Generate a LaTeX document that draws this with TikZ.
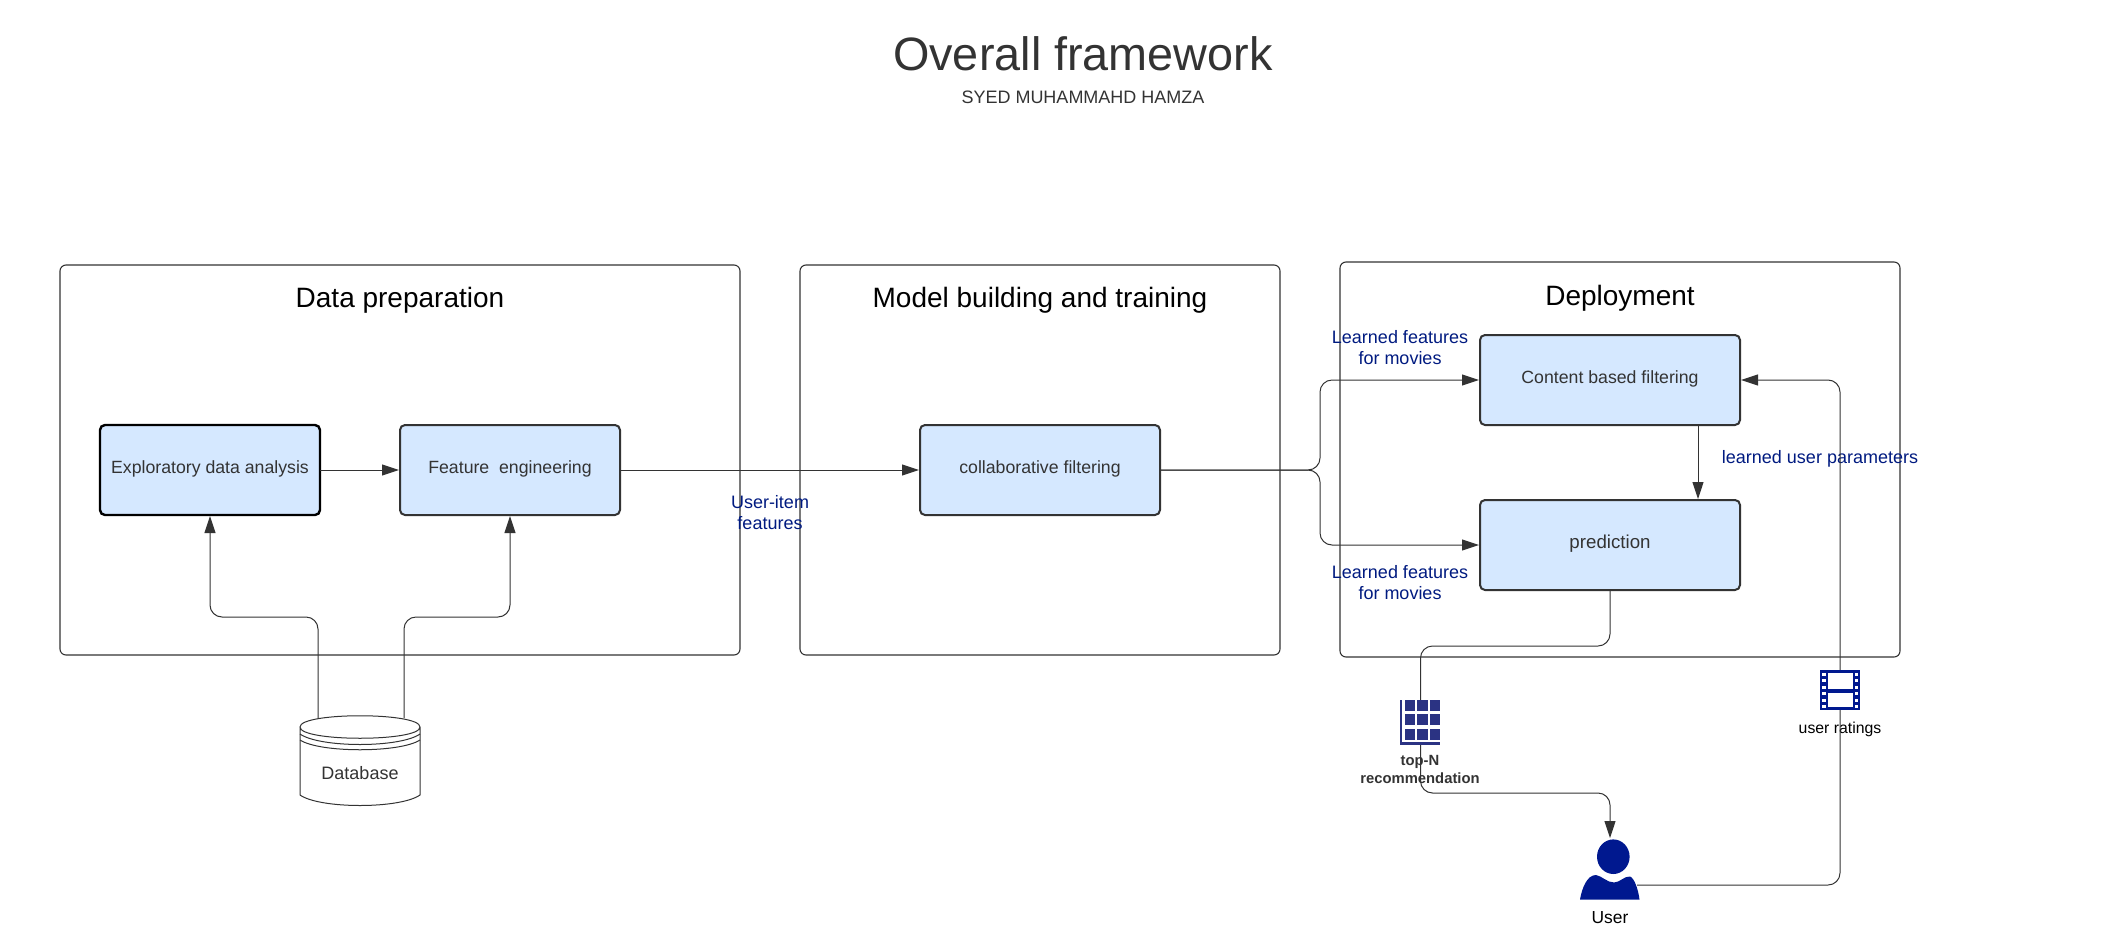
\documentclass[tikz,border=0pt]{standalone}
\usepackage{fontspec}
\usepackage{xcolor}
\usepackage{tikz}
\usetikzlibrary{arrows.meta}
\setmainfont{Liberation Sans}
\definecolor{boxblue}{HTML}{D5E8FF}
\definecolor{inkgray}{HTML}{333333}
\definecolor{labelblue}{HTML}{001A80}
\definecolor{iconblue}{HTML}{00188F}
\definecolor{gridblue}{HTML}{2B3383}

\begin{document}
\begin{tikzpicture}[x=0.5pt, y=-0.5pt, >={Triangle[length=8.5pt, width=5.5pt]}]
	\useasboundingbox (0, 0) rectangle (2114, 942);

	\begin{scope}[
		panel/.style={draw=inkgray, line width=0.55pt, rounded corners=3pt, inner sep=0, outer sep=0},
		block/.style={align=center, draw=inkgray, fill=boxblue, line width=1pt, rounded corners=2.5pt, minimum height=45pt, inner sep=0, outer sep=0, text=inkgray, text height=6.5pt, text depth=3pt, font=\fontsize{8.85}{11}\selectfont},
		heading/.style={font=\fontsize{14}{16}\selectfont, text=black, inner sep=0},
		blue label/.style={align=center, text=labelblue, inner sep=0, font=\fontsize{9}{10.5}\selectfont},
		icon/.style={minimum width=20pt, inner sep=0, outer sep=0}]
		\node[panel, minimum width=340pt, minimum height=195pt] (PrepPanel) at (400, 460) {};
		\node[panel, minimum width=240pt, minimum height=195pt] (ModelPanel) at (1040, 460) {};
		\node[panel, minimum width=280pt, minimum height=197.5pt] (DeployPanel) at (1620, 459.5) {};

		\node[font=\fontsize{23.4}{26}\selectfont, text=inkgray, inner sep=0] (Title) at (1083, 54) {Overall framework};
		\node[font=\fontsize{9}{11}\selectfont, text=inkgray, inner sep=0] (Author) at (1083, 97) {SYED MUHAMMAHD HAMZA};

		\node[heading] (PrepHead) at (400, 300.5) {Data preparation};
		\node[heading] (ModelHead) at (1040, 300.5) {Model building and training};
		\node[heading] (DeployHead) at (1620, 298) {Deployment};

		\node[block, minimum width=110pt, draw=black, line width=1.2pt] (Eda) at (210, 470) {Exploratory data analysis};
		\node[block, minimum width=110pt] (Feature) at (510, 470) {Feature\ \ engineering};
		\node[block, minimum width=120pt] (Collab) at (1040, 470) {collaborative filtering};
		\node[block, minimum width=130pt] (Content) at (1610, 380) {Content based filtering};
		\node[block, minimum width=130pt, font=\fontsize{9.35}{11}\selectfont] (Predict) at (1610, 545) {prediction};

		\node[blue label] (ItemLabel) at (770, 513) {User-item\\features};
		\node[blue label] (MovieTop) at (1400, 347.5) {Learned features\\for movies};
		\node[blue label] (MovieLow) at (1400, 582.5) {Learned features\\for movies};
		\node[blue label] (ParamLabel) at (1820, 459) {learned user parameters};

		\node[minimum width=60pt, minimum height=45pt, inner sep=0, outer sep=0] (Db) at (360, 760) {};
		\node[icon, minimum height=22.5pt] (GridIcon) at (1420, 722.5) {};
		\node[icon, minimum height=20pt] (FilmIcon) at (1840, 690) {};
		\node[minimum width=30pt, minimum height=30pt, inner sep=0, outer sep=0] (UserIcon) at (1610, 869) {};

		\node[align=center, inner sep=0, font=\bfseries\fontsize{7.4}{8.7}\selectfont, text=inkgray] (GridText) at (1420, 769.5) {top-N\\recommendation};
		\node[inner sep=0, font=\fontsize{7.9}{10}\selectfont] (FilmText) at (1840, 729) {user ratings};
		\node[inner sep=0, font=\fontsize{8.7}{10}\selectfont] (UserText) at (1610, 918) {User};
	\end{scope}

	\coordinate (DbLeft) at (318, 718);
	\coordinate (DbRight) at (404, 718);
	\coordinate (BendEda) at (210, 617);
	\coordinate (BendFeature) at (510, 617);
	\coordinate (Fork) at (1320, 470);
	\coordinate (ContentOut) at (1698, 425);
	\coordinate (DropA) at (1420.5, 646);
	\coordinate (DropB) at (1420.5, 793);
	\coordinate (UserOut) at (1637, 885);

	\begin{scope}[
		link/.style={draw=inkgray, line width=0.5pt, rounded corners=6pt, shorten >=0.5pt}]
		\draw[link, ->] (DbLeft) |- (BendEda) -- (Eda.south);
		\draw[link, ->] (DbRight) |- (BendFeature) -- (Feature.south);
		\draw[link, ->] (Eda.east) -- (Feature.west);
		\draw[link, ->] (Feature.east) -- (Collab.west);
		\draw[link, ->] (Collab.east) -- (Fork) |- (Content.west);
		\draw[link, ->] (Collab.east) -- (Fork) |- (Predict.west);
		\draw[link, ->] (ContentOut) -- (ContentOut |- Predict.north);
		\draw[link, ->] (Predict.south) |- (DropA) -- (DropB) -| (UserIcon.north);
		\draw[link, ->] (UserOut) -| (FilmIcon.center) |- (Content.east);
	\end{scope}

	\draw[inkgray, line width=0.5pt, fill=white] (300, 727) -- (300, 795) .. controls (320, 809) and (400, 809) .. (420, 795) -- (420, 727) .. controls (420, 712) and (300, 712) .. (300, 727) .. controls (300, 742) and (420, 742) .. (420, 727);
	\draw[inkgray, line width=0.5pt] (300, 734) .. controls (320, 748) and (400, 748) .. (420, 734);
	\draw[inkgray, line width=0.5pt] (300, 740) .. controls (320, 753) and (400, 753) .. (420, 740);
	\node[text=inkgray, inner sep=0, font=\fontsize{9}{11}\selectfont] (DbText) at (360, 773) {Database};

	\fill[white] (GridIcon.north west) rectangle (GridIcon.south east);
	\foreach \row in {700, 714, 729}
		\foreach \col in {1404.5, 1417, 1429.5}
			\fill[gridblue] (\col, \row) rectangle ++(10.5, 11);
	\fill[gridblue] (1400, 700) rectangle (1402.3, 744.7);
	\fill[gridblue] (1400, 742.3) rectangle (1440, 744.7);

	\fill[iconblue] (FilmIcon.north west) rectangle (FilmIcon.south east);
	\fill[white] (1827.5, 673) rectangle (1852.5, 689);
	\fill[white] (1827.5, 692.5) rectangle (1852.5, 707);
	\foreach \row in {672.5, 679, 685.5, 692, 698.5, 704.5} {
		\fill[white] (1822, \row) rectangle ++(3.5, 3);
		\fill[white] (1854.5, \row) rectangle ++(3.5, 3);
	}

	\fill[iconblue] (1613.3, 856.7) ellipse [x radius=16.3, y radius=17.3];
	\fill[iconblue] (1580, 899.5) .. controls (1582, 888) and (1587, 875) .. (1596, 875) .. controls (1602, 876) and (1607, 882.5) .. (1614, 882.5) .. controls (1620, 882.5) and (1624, 876) .. (1630, 876.5) .. controls (1634, 878) and (1638, 888) .. (1639.5, 899.5) -- cycle;
\end{tikzpicture}
\end{document}
